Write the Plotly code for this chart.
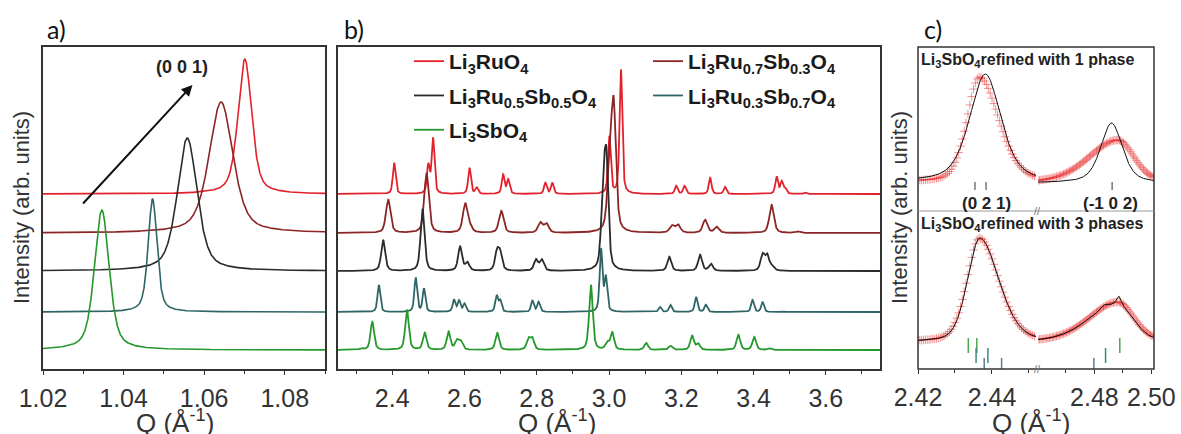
import numpy as np
import plotly.graph_objects as go

W, H = 1181, 434

# ---------------- data ----------------
SERIES = [
    "Li<sub>3</sub>RuO<sub>4</sub>",
    "Li<sub>3</sub>Ru<sub>0.7</sub>Sb<sub>0.3</sub>O<sub>4</sub>",
    "Li<sub>3</sub>Ru<sub>0.5</sub>Sb<sub>0.5</sub>O<sub>4</sub>",
    "Li<sub>3</sub>Ru<sub>0.3</sub>Sb<sub>0.7</sub>O<sub>4</sub>",
    "Li<sub>3</sub>SbO<sub>4</sub>",
]
COLORS = ["#e3212b", "#8c2626", "#2b2b2b", "#2f6565", "#24982b"]
OFFSETS = [175, 136, 98, 57, 19]          # vertical stacking (arb. units)
LEGEND_OF = ["legend", "legend2", "legend", "legend2", "legend"]

# panel a: (0 0 1) reflection
A_POS = [1.0701, 1.0642, 1.0558, 1.0472, 1.0346]
A_HEIGHT = [135, 131, 133, 113, 140]
A_FWHM = [0.0040, 0.0070, 0.0058, 0.0026, 0.0043]

# panel b: reflections (position in 1/A, height in arb. units)
B_FWHM = [0.009, 0.015, 0.013, 0.009, 0.012]
B_POS_RU10 = [2.4055, 2.500, 2.513, 2.614, 2.634, 2.707, 2.721, 2.824, 2.843, 3.001, 3.033,
              3.186, 3.209, 3.280, 3.321, 3.464, 3.478, 3.488, 3.543]
B_H_RU10 = [31, 28, 55, 26, 6, 19, 14, 11, 11, 57, 124, 8, 8, 16, 7, 17, 12, 5, 1.5]
B_POS_RU07 = [2.389, 2.495, 2.602, 2.615, 2.702, 2.810, 2.827, 3.002, 3.013, 3.174, 3.191,
              3.266, 3.298, 3.450, 3.523]
B_H_RU07 = [33, 60, 29, 5, 22, 10, 9, 60, 120, 7, 8, 13, 6, 28, 1.5]
B_POS_RU05 = [2.375, 2.484, 2.588, 2.608, 2.690, 2.699, 2.798, 2.814, 2.984, 2.993, 3.167,
              3.252, 3.282, 3.425, 3.438, 3.452]
B_H_RU05 = [31, 62, 24, 8, 18, 16, 11, 11, 75, 100, 14, 16, 7, 16, 15, 4]
B_POS_RU03 = [2.363, 2.465, 2.488, 2.571, 2.585, 2.600, 2.689, 2.699, 2.788, 2.805, 2.978,
              2.991, 3.141, 3.170, 3.241, 3.268, 3.397, 3.425, 3.480]
B_H_RU03 = [27, 34, 23, 12, 11, 8, 16, 11, 11, 10, 62, 34, 5, 7, 15, 7, 12, 10, 1]
B_POS_RU00 = [2.315, 2.345, 2.441, 2.490, 2.556, 2.579, 2.590, 2.691, 2.777, 2.788, 2.950,
              2.995, 3.009, 3.103, 3.170, 3.230, 3.247, 3.358, 3.402, 3.445]
B_H_RU00 = [1.5, 28, 40, 17, 18, 9, 8, 17, 11, 11, 65, 7, 17, 7, 4, 14, 6, 15, 13, 1.5]
B_POS = [B_POS_RU10, B_POS_RU07, B_POS_RU05, B_POS_RU03, B_POS_RU00]
B_H = [B_H_RU10, B_H_RU07, B_H_RU05, B_H_RU03, B_H_RU00]

# panel c: Li3SbO4 refinements
C_BASE_TOP = [29, 28]          # left, right segment baselines (top: 1 phase)
C_BASE_BOT = [27, 27]          # (bottom: 3 phases)
# observed profile (asymmetric): centre, height, left HWHM, right HWHM
C_OBS_L = [2.4366, 105, 0.0040, 0.0062]
C_OBS_R = [2.4882, 43, 0.0120, 0.0068]
C_OBS_L_BOT = [2.4366, 104, 0.0040, 0.0062]
C_OBS_R_BOT = [2.4882, 40, 0.0120, 0.0068]
# calculated, 1 phase: centre, height, FWHM
C_CALC1_POS = [2.4382, 2.4860]
C_CALC1_H = [108, 60]
C_CALC1_FWHM = [0.0100, 0.0090]
# calculated, 3 phases: broad envelopes (centre, height, left HWHM, right HWHM) + sharp components
C_CALC3_ENV_L = [2.4367, 104, 0.0039, 0.0061]
C_CALC3_ENV_R = [2.4880, 38, 0.0120, 0.0066]
C_CALC3_POS = [2.4833, 2.4885]
C_CALC3_H = [3, 8]
C_CALC3_FWHM = [0.0022, 0.0018]
# reflection markers
C_HKL_1PH = [2.4354, 2.4384, 2.4862]
C_PH_GREEN = [2.4336, 2.4359, 2.4889]
C_PH_TEAL = [2.4357, 2.4389, 2.4839]
C_PH_BLUE = [2.4379, 2.4426, 2.4798]


def pv(x, x0, h, fwhm, eta=0.5):
    r = (2.0 * (x - x0) / fwhm) ** 2
    return h * (eta / (1 + r) + (1 - eta) * np.exp(-np.log(2) * r))


def apv(x, x0, h, hl, hr, eta=0.3):
    hw = np.where(x < x0, hl, hr)
    r = ((x - x0) / hw) ** 2
    return h * (eta / (1 + r) + (1 - eta) * np.exp(-np.log(2) * r))


def ticks_xy(pos, y0, y1):
    xs, ys = [], []
    for p in pos:
        xs += [p, p, None]
        ys += [y0, y1, None]
    return xs, ys


fig = go.Figure()

# ---------------- panel a ----------------
xa = np.linspace(1.02, 1.09, 1401)
for i in range(5):
    ya = OFFSETS[i] + pv(xa, A_POS[i], A_HEIGHT[i], A_FWHM[i])
    fig.add_trace(go.Scatter(x=xa, y=ya, mode="lines", line=dict(color=COLORS[i], width=1.6),
                             xaxis="x", yaxis="y", showlegend=False, hoverinfo="skip"))

# ---------------- panel b ----------------
xb = np.linspace(2.25, 3.75, 3001)
for i in range(5):
    yb = np.full_like(xb, OFFSETS[i], dtype=float)
    for p, h in zip(B_POS[i], B_H[i]):
        yb = yb + pv(xb, p, h, B_FWHM[i])
    fig.add_trace(go.Scatter(x=xb, y=yb, mode="lines", line=dict(color=COLORS[i], width=1.8),
                             xaxis="x2", yaxis="y2", name=SERIES[i], legend=LEGEND_OF[i],
                             legendgroup="g%d" % i, hoverinfo="skip"))

# ---------------- panel c ----------------
RED_OBS = "rgba(232,40,40,0.5)"
xcl = np.arange(2.4200, 2.4521, 0.0005)
xcr = np.arange(2.4602, 2.5011, 0.0005)
xcl_f = np.linspace(2.42, 2.4519, 400)
xcr_f = np.linspace(2.4602, 2.5009, 400)

obs_marker = dict(symbol="cross-thin", size=6, line=dict(color=RED_OBS, width=1))
segments = [("x3", xcl, xcl_f, 0), ("x4", xcr, xcr_f, 1)]
for xax, xo, xf, k in segments:
    # top: 1 phase
    obs = C_OBS_L if k == 0 else C_OBS_R
    yo = C_BASE_TOP[k] + apv(xo, *obs)
    fig.add_trace(go.Scatter(x=xo, y=yo, mode="markers", marker=obs_marker,
                             xaxis=xax, yaxis="y3", showlegend=False, hoverinfo="skip"))
    yc = C_BASE_TOP[k] + pv(xf, C_CALC1_POS[k], C_CALC1_H[k], C_CALC1_FWHM[k])
    fig.add_trace(go.Scatter(x=xf, y=yc, mode="lines", line=dict(color="#111", width=1),
                             xaxis=xax, yaxis="y3", showlegend=False, hoverinfo="skip"))
    # bottom: 3 phases
    obs = C_OBS_L_BOT if k == 0 else C_OBS_R_BOT
    yo = C_BASE_BOT[k] + apv(xo, *obs)
    fig.add_trace(go.Scatter(x=xo, y=yo, mode="markers", marker=obs_marker,
                             xaxis=xax, yaxis="y4", showlegend=False, hoverinfo="skip"))
    env = C_CALC3_ENV_L if k == 0 else C_CALC3_ENV_R
    yc = C_BASE_BOT[k] + apv(xf, *env)
    for p, h, w in zip(C_CALC3_POS, C_CALC3_H, C_CALC3_FWHM):
        yc = yc + pv(xf, p, h, w)
    fig.add_trace(go.Scatter(x=xf, y=yc, mode="lines", line=dict(color="#111", width=1),
                             xaxis=xax, yaxis="y4", showlegend=False, hoverinfo="skip"))

# reflection markers
for xax, sel in (("x3", lambda p: p < 2.455), ("x4", lambda p: p > 2.455)):
    tx, ty = ticks_xy([p for p in C_HKL_1PH if sel(p)], 21, 29)
    fig.add_trace(go.Scatter(x=tx, y=ty, mode="lines", line=dict(color="#333", width=1),
                             xaxis=xax, yaxis="y3", showlegend=False, hoverinfo="skip"))
    for pos, y0, y1, col in ((C_PH_GREEN, 16, 31, "#4aa84a"), (C_PH_TEAL, 6, 21, "#3a8a78"),
                             (C_PH_BLUE, 0, 11, "#5a7898")):
        tx, ty = ticks_xy([p for p in pos if sel(p)], y0, y1)
        fig.add_trace(go.Scatter(x=tx, y=ty, mode="lines", line=dict(color=col, width=1.5),
                                 xaxis=xax, yaxis="y4", showlegend=False, hoverinfo="skip"))

# ---------------- layout ----------------
FONT = "Liberation Sans"
TXT = "#333333"


def px_x(p):
    return p / W


def px_y(p):
    return 1 - p / H


xcommon = dict(showgrid=False, zeroline=False, ticks="outside", ticklen=4, tickcolor=TXT,
               automargin=False, ticklabelstandoff=2,
               tickfont=dict(family=FONT, size=25, color=TXT))
boxed = dict(showline=True, linecolor=TXT, linewidth=1.5, mirror=True)
ycommon = dict(showgrid=False, zeroline=False, showticklabels=False, ticks="", automargin=False)

fig.update_layout(
    template="none",
    width=W, height=H, margin=dict(l=0, r=0, t=0, b=0, autoexpand=False),
    paper_bgcolor="white", plot_bgcolor="white",
    xaxis=dict(domain=[px_x(43), px_x(325)], range=[1.02, 1.09], anchor="y",
               tickvals=[1.02, 1.04, 1.06, 1.08], tickformat=".2f",
               minor=dict(ticks="outside", ticklen=3, dtick=0.01, tickcolor=TXT), **xcommon, **boxed),
    yaxis=dict(domain=[px_y(369), px_y(47)], range=[0, 322], anchor="x", **ycommon, **boxed),
    xaxis2=dict(domain=[px_x(338), px_x(880)], range=[2.25, 3.75], anchor="y2",
                tick0=2.4, dtick=0.2, tickformat=".1f",
                minor=dict(ticks="outside", ticklen=3, dtick=0.1, tickcolor=TXT), **xcommon, **boxed),
    yaxis2=dict(domain=[px_y(369), px_y(47)], range=[0, 322], anchor="x2", **ycommon, **boxed),
    xaxis3=dict(domain=[px_x(918), px_x(1036)], range=[2.42, 2.4519], anchor="y4",
                tickvals=[2.42, 2.44], tickformat=".2f",
                minor=dict(ticks="outside", ticklen=3, tickvals=[2.43, 2.45], tickcolor=TXT),
                **xcommon),
    xaxis4=dict(domain=[px_x(1038), px_x(1154)], range=[2.4602, 2.5009], anchor="y4",
                tickvals=[2.48, 2.50], tickformat=".2f",
                minor=dict(ticks="outside", ticklen=3, tickvals=[2.47, 2.49], tickcolor=TXT),
                **xcommon),
    yaxis3=dict(domain=[px_y(211), px_y(47)], range=[0, 164], anchor="x3", **ycommon),
    yaxis4=dict(domain=[px_y(369), px_y(211)], range=[0, 158], anchor="x3", **ycommon),
    legend=dict(x=px_x(409), y=px_y(41), xanchor="left", yanchor="top", bgcolor="rgba(0,0,0,0)",
                font=dict(family=FONT, size=21, color="#1a1a1a", weight="bold"), tracegroupgap=4),
    legend2=dict(x=px_x(648), y=px_y(41), xanchor="left", yanchor="top", bgcolor="rgba(0,0,0,0)",
                 font=dict(family=FONT, size=21, color="#1a1a1a", weight="bold"), tracegroupgap=4),
)

shapes = [
    dict(type="rect", xref="paper", yref="paper", x0=px_x(918), x1=px_x(1154), y0=px_y(369), y1=px_y(47),
         line=dict(color=TXT, width=1.5), layer="above"),
    dict(type="line", xref="paper", yref="paper", x0=px_x(918), x1=px_x(1154), y0=px_y(211), y1=px_y(211),
         line=dict(color="#9a9a9a", width=1), layer="above"),
]
fig.update_layout(shapes=shapes)

ann = []
# panel labels
for t, x in (("a)", 45), ("b)", 342), ("c)", 922)):
    ann.append(dict(text=t, x=px_x(x), y=px_y(29), xref="paper", yref="paper", xanchor="left",
                    yanchor="middle", showarrow=False, font=dict(family="Lato", size=25, color="#111")))
# axis titles
for x in (22, 900):
    ann.append(dict(text="Intensity (arb. units)", x=px_x(x), y=px_y(208), xref="paper", yref="paper",
                    xanchor="center", yanchor="middle",
                    textangle=-90, showarrow=False, font=dict(family=FONT, size=22, color=TXT)))
for x in (175, 557, 1031):
    ann.append(dict(text="Q (Å<sup>-1</sup>)", x=px_x(x), y=px_y(421), xref="paper", yref="paper",
                    xanchor="center", yanchor="middle",
                    showarrow=False, font=dict(family=FONT, size=26, color=TXT)))
# panel a arrow + label
ann.append(dict(x=1.0571, y=284, ax=1.0296, ay=164, xref="x", yref="y", axref="x", ayref="y",
                text="", showarrow=True, arrowhead=2, arrowsize=1.1, arrowwidth=2, arrowcolor="#111"))
ann.append(dict(text="<b>(0 0 1)</b>", x=1.0545, y=302, xref="x", yref="y", showarrow=False,
                xanchor="center", yanchor="middle", font=dict(family=FONT, size=18, color="#222")))
# panel c texts
ann.append(dict(text="<b>Li<sub>3</sub>SbO<sub>4</sub>refined with 1 phase</b>", x=px_x(919), y=px_y(60),
                xref="paper", yref="paper", xanchor="left", yanchor="middle", showarrow=False,
                font=dict(family=FONT, size=16, color="#222")))
ann.append(dict(text="<b>Li<sub>3</sub>SbO<sub>4</sub>refined with 3 phases</b>", x=px_x(919), y=px_y(224),
                xref="paper", yref="paper", xanchor="left", yanchor="middle", showarrow=False,
                font=dict(family=FONT, size=16, color="#222")))
ann.append(dict(text="<b>(0 2 1)</b>", x=2.4384, y=8, xref="x3", yref="y3", showarrow=False,
                xanchor="center", yanchor="middle", font=dict(family=FONT, size=17, color="#222")))
ann.append(dict(text="<b>(-1 0 2)</b>", x=2.4858, y=8, xref="x4", yref="y3", showarrow=False,
                xanchor="center", yanchor="middle", font=dict(family=FONT, size=17, color="#222")))
# axis break marks
for yy in (211, 369):
    ann.append(dict(text="//", x=px_x(1037), y=px_y(yy), xref="paper", yref="paper", showarrow=False,
                    xanchor="center", yanchor="middle", font=dict(family=FONT, size=11, color="#777")))
fig.update_layout(annotations=ann)

fig.write_html("out.html")
